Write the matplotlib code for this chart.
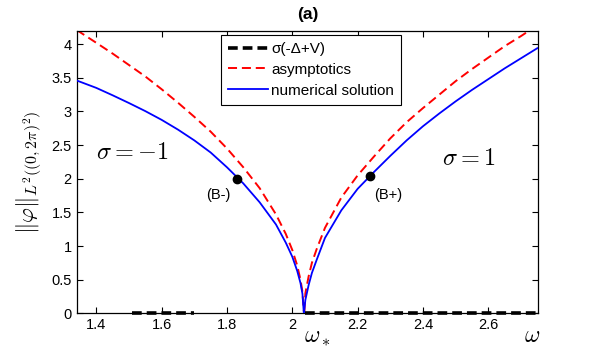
import matplotlib
matplotlib.use("Agg")
import matplotlib.pyplot as plt
from matplotlib.ticker import FixedLocator, FixedFormatter

plt.rcParams['font.family'] = ['Liberation Sans', 'DejaVu Sans']
plt.rcParams['mathtext.fontset'] = 'cm'
plt.rcParams['lines.scale_dashes'] = False

# ---- data ----
omega_star = 2.035

# spectrum intervals sigma(-Delta+V) on the omega axis
spec_left = [1.51, 1.70]
spec_right = [2.04, 2.75]

# asymptotics, left branch (sigma = -1)
asym_left_w = [1.34, 1.40, 1.45, 1.50, 1.55, 1.60, 1.65, 1.70, 1.75, 1.80,
               1.85, 1.90, 1.95, 1.98, 2.00, 2.015, 2.025, 2.031, 2.035]
asym_left_v = [4.21, 4.02, 3.86, 3.69, 3.52, 3.33, 3.13, 2.92, 2.70, 2.45,
               2.17, 1.86, 1.47, 1.18, 0.94, 0.71, 0.50, 0.32, 0.03]
# asymptotics, right branch (sigma = 1)
asym_right_w = [2.037, 2.04, 2.05, 2.06, 2.075, 2.10, 2.15, 2.20, 2.25, 2.30,
                2.35, 2.40, 2.45, 2.50, 2.55, 2.60, 2.65, 2.70, 2.75]
asym_right_v = [0.03, 0.30, 0.55, 0.75, 0.96, 1.27, 1.72, 2.05, 2.33, 2.60,
                2.84, 3.05, 3.25, 3.45, 3.63, 3.80, 3.97, 4.12, 4.28]

# numerical solution, left branch
num_left_w = [1.34, 1.40, 1.45, 1.50, 1.55, 1.60, 1.65, 1.70, 1.75, 1.80,
              1.85, 1.90, 1.95, 1.98, 2.00, 2.015, 2.025, 2.031, 2.035]
num_left_v = [3.46, 3.35, 3.24, 3.125, 3.005, 2.875, 2.73, 2.57, 2.39, 2.17,
              1.93, 1.65, 1.32, 1.05, 0.84, 0.63, 0.45, 0.29, 0.02]
# numerical solution, right branch
num_right_w = [2.036, 2.04, 2.05, 2.06, 2.075, 2.10, 2.15, 2.20, 2.25, 2.30,
               2.35, 2.40, 2.45, 2.50, 2.55, 2.60, 2.65, 2.70, 2.75]
num_right_v = [0.02, 0.20, 0.42, 0.60, 0.80, 1.12, 1.53, 1.85, 2.10, 2.34,
               2.57, 2.78, 2.97, 3.15, 3.32, 3.48, 3.64, 3.79, 3.94]

# marked points
pts_w = [1.832, 2.237]
pts_v = [2.00, 2.04]
pts_labels = ['(B-)', '(B+)']

xticks = [1.4, 1.6, 1.8, 2.0, 2.2, 2.4, 2.6]
xtick_labels = ['1.4', '1.6', '1.8', '2', '2.2', '2.4', '2.6']
yticks = [0, 0.5, 1, 1.5, 2, 2.5, 3, 3.5, 4]
ytick_labels = ['0', '0.5', '1', '1.5', '2', '2.5', '3', '3.5', '4']

# ---- figure ----
W, H = 594, 353
fig = plt.figure(figsize=(W / 100, H / 100), dpi=100)
ax = fig.add_axes([76.7 / W, (H - 313.3) / H, 461.6 / W, 282.6 / H])

spec_kw = dict(color='black', linewidth=2.6, dashes=(7.0, 3.6), clip_on=False, zorder=4)
ax.plot(spec_left, [0, 0], label=r'σ(-Δ+V)', **spec_kw)
ax.plot(spec_right, [0, 0], **spec_kw)

red_kw = dict(color='#ff0000', linewidth=1.4, dashes=(6.5, 3.5), zorder=2)
ax.plot(asym_left_w, asym_left_v, label='asymptotics', **red_kw)
ax.plot(asym_right_w, asym_right_v, **red_kw)

blue_kw = dict(color='#0000ff', linewidth=1.3, zorder=3)
ax.plot(num_left_w, num_left_v, label='numerical solution', **blue_kw)
ax.plot(num_right_w, num_right_v, **blue_kw)

ax.plot(pts_w, pts_v, 'o', color='black', markersize=6, zorder=5)
ax.text(1.772, 1.76, pts_labels[0], fontsize=10.5, ha='center', va='center')
ax.text(2.293, 1.76, pts_labels[1], fontsize=10.5, ha='center', va='center')

ax.text(1.398, 2.38, r'$\sigma = -1$', fontsize=17.5, ha='left', va='center')
ax.text(2.457, 2.29, r'$\sigma = 1$', fontsize=17.5, ha='left', va='center')

ax.set_xlim(1.34, 2.753)
ax.set_ylim(0, 4.2)
ax.xaxis.set_major_locator(FixedLocator(xticks))
ax.xaxis.set_major_formatter(FixedFormatter(xtick_labels))
ax.yaxis.set_major_locator(FixedLocator(yticks))
ax.yaxis.set_major_formatter(FixedFormatter(ytick_labels))
ax.tick_params(direction='in', top=True, right=True, length=4, width=0.8,
               labelsize=10.5, pad=3.5)
for s in ax.spines.values():
    s.set_linewidth(0.9)

# axis labels
fig.text(532 / W, 1 - 336.5 / H, r'$\omega$', fontsize=17, ha='center', va='center')
ax.text(omega_star, -(336.5 - 313.3) / 282.6, r'$\omega_*$', fontsize=17,
        ha='left', va='center', transform=ax.get_xaxis_transform(), clip_on=False)
fig.text(29.2 / W, 1 - 172.5 / H, r'$\|\varphi\|_{L^2((0,2\pi)^2)}$', fontsize=16.5,
         rotation=90, ha='center', va='center')
fig.text(307.5 / W, 1 - 14 / H, '(a)', fontsize=12.5, fontweight='bold',
         ha='center', va='center')

leg = ax.legend(loc='upper left', bbox_to_anchor=(221 / W, 1 - 35 / H),
                bbox_transform=fig.transFigure, borderaxespad=0, fontsize=11,
                fancybox=False, framealpha=1, edgecolor='black',
                handlelength=2.6, handletextpad=0.25, labelspacing=0.45,
                borderpad=0.45)
leg.get_frame().set_linewidth(0.8)

fig.savefig('out.png', dpi=100)
